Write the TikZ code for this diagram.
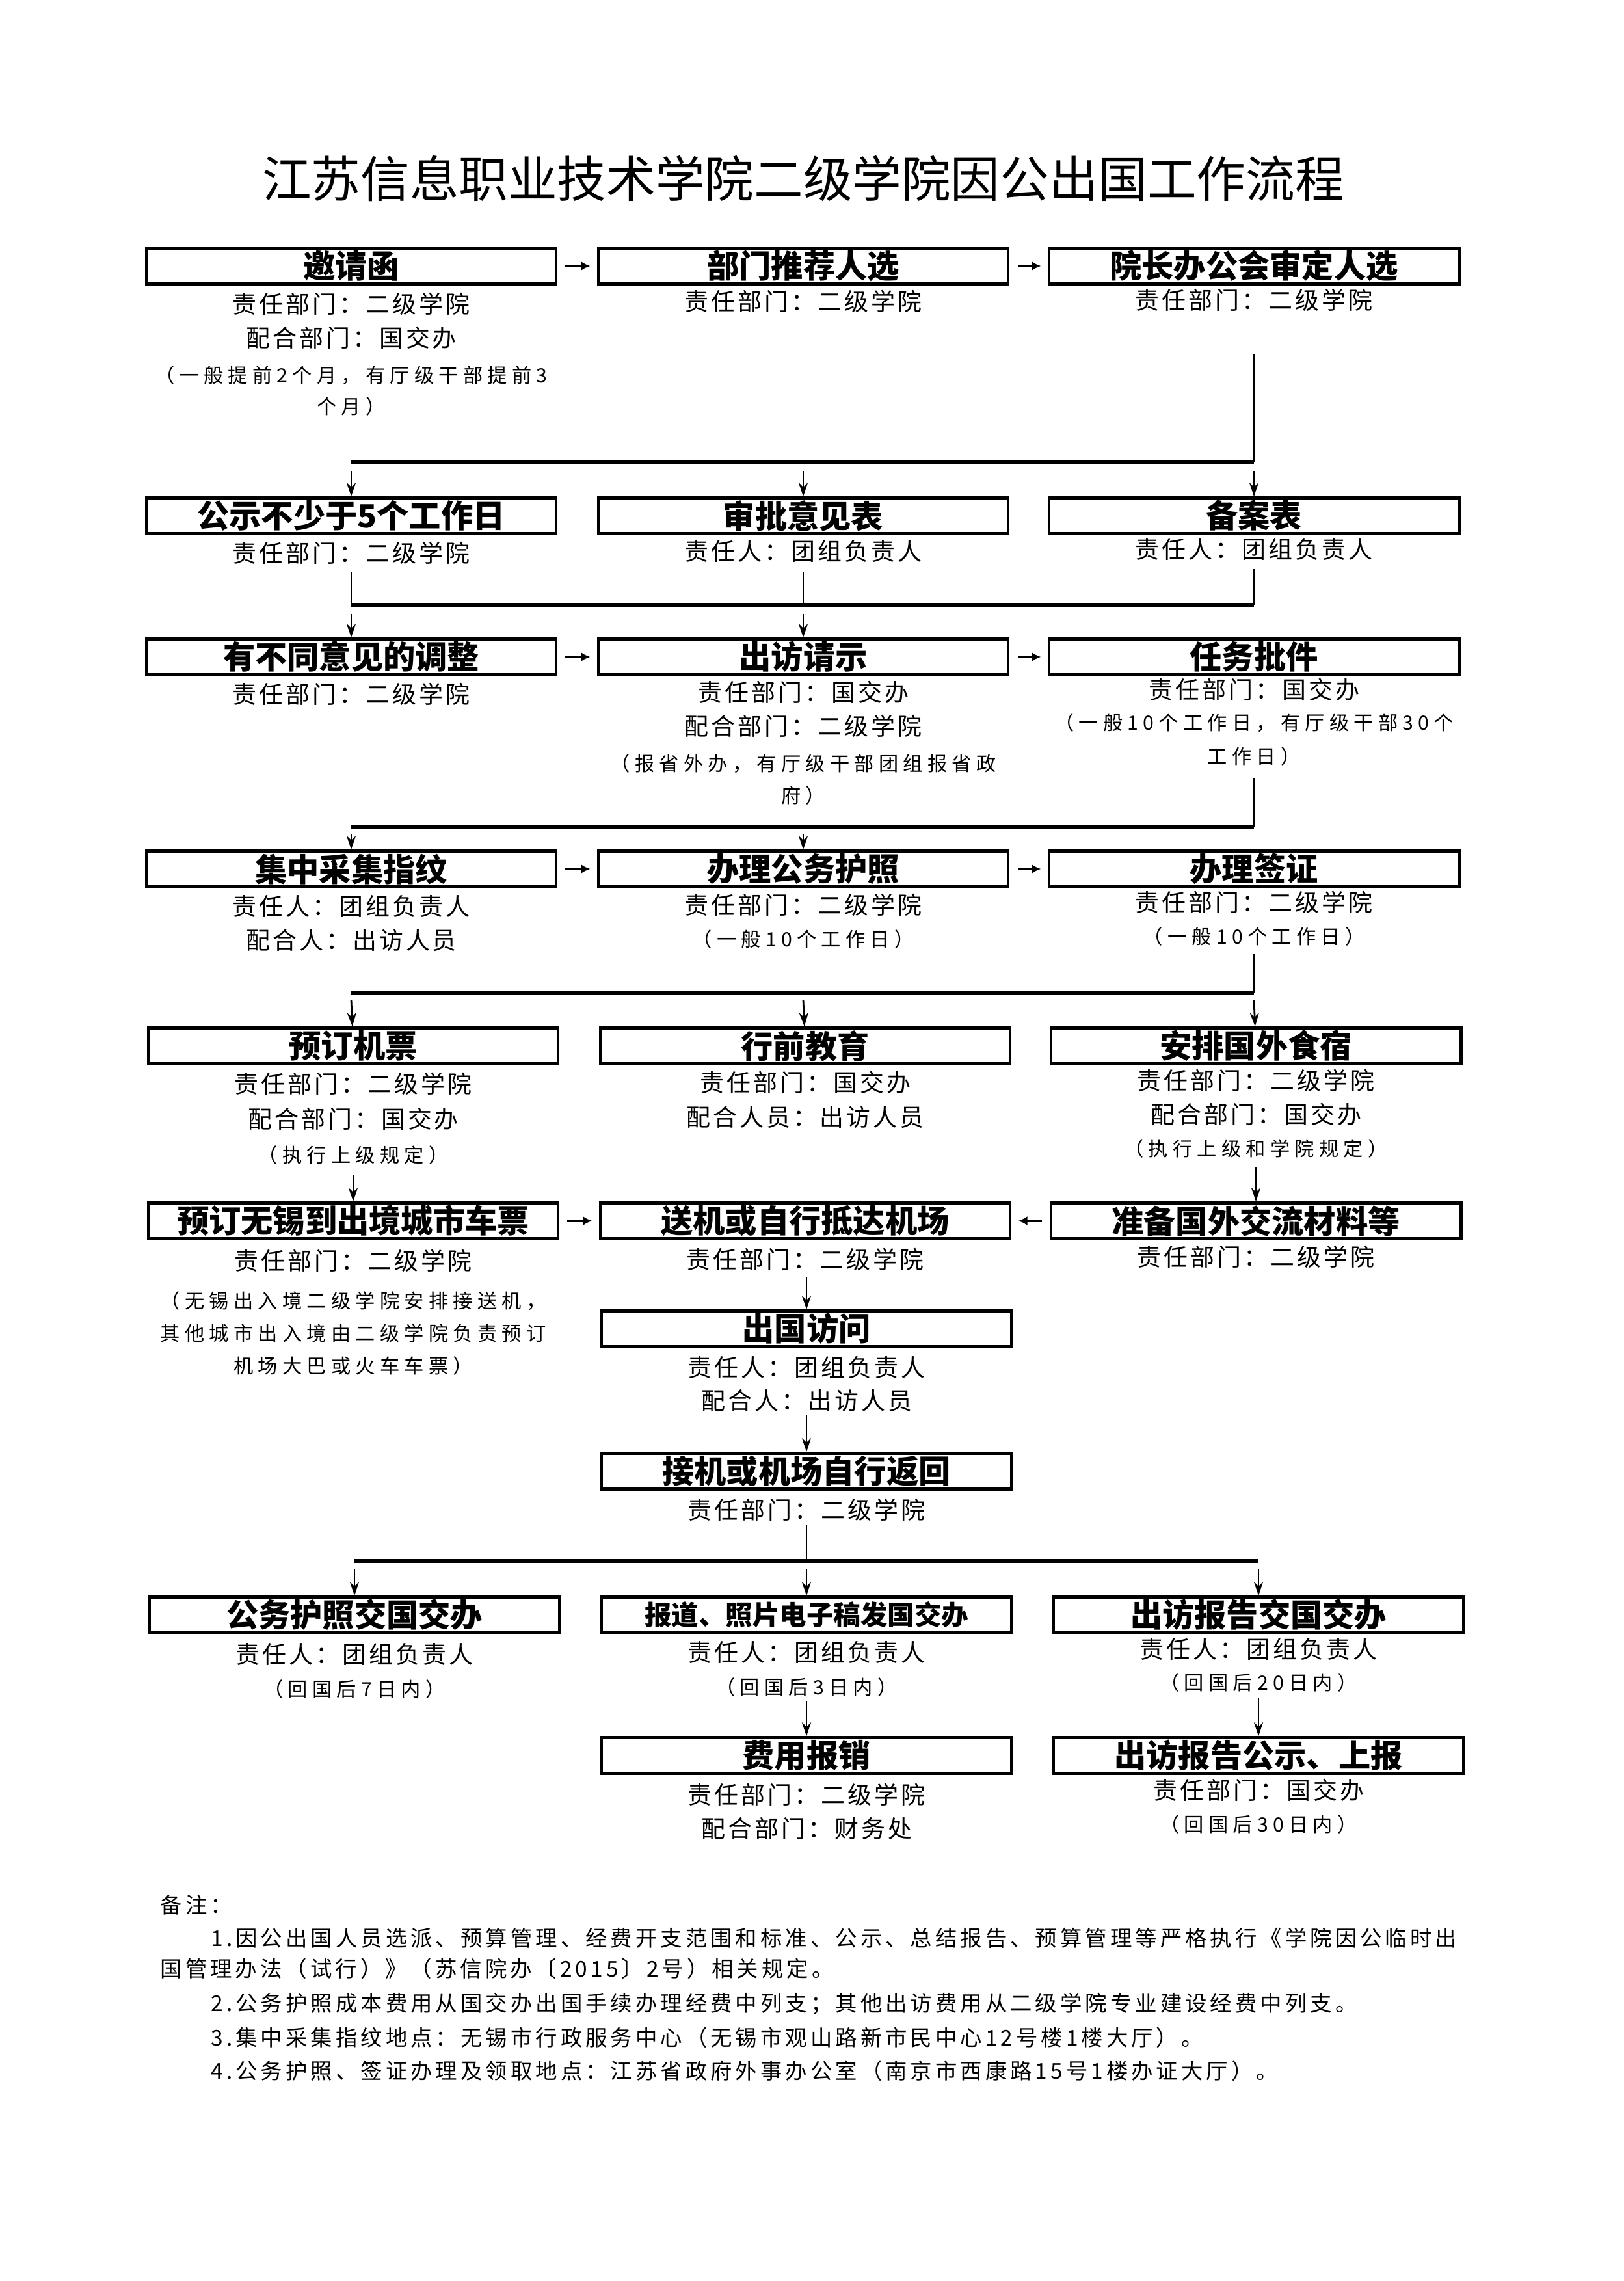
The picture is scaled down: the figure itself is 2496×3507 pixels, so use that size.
\documentclass[tikz,border=0pt]{standalone}
\usepackage{fontspec}
\setmainfont{Noto Sans CJK SC}
\newfontfamily\subfont[LetterSpace=11]{Noto Sans CJK SC}
\newfontfamily\parfont[LetterSpace=24]{Noto Sans CJK SC}
\newfontfamily\notefont[LetterSpace=15]{Noto Sans CJK SC}
\usetikzlibrary{arrows.meta}
\begin{document}
\begin{tikzpicture}[x=0.01cm,y=-0.01cm,
  flowbox/.style={draw, line width=1.3pt, minimum width=6.3cm, minimum height=0.55cm, inner sep=0pt, font=\fontsize{14}{16}\selectfont\bfseries},
  subtxt/.style={inner sep=0pt, font=\subfont\fontsize{10.5}{12}\selectfont},
  partxt/.style={inner sep=0pt, font=\parfont\fontsize{8.6}{10}\selectfont},
  notetxt/.style={inner sep=0pt, anchor=west, font=\notefont\fontsize{9.5}{11}\selectfont},
  hline/.style={line width=1.8pt},
  vline/.style={line width=0.8pt},
  darr/.style={line width=0.8pt, -{Stealth[length=6pt,width=4pt]}},
  harr/.style={line width=1.3pt, -{Latex[length=4pt,width=4pt]}, shorten <=0.12cm, shorten >=0.1cm}]
\fill[white] (0,0) rectangle (2496,3507);
\useasboundingbox (0,0) rectangle (2496,3507);

% title
\node[inner sep=0pt, font=\fontsize{21.5}{24}\selectfont] (title) at (1235,275) {江苏信息职业技术学院二级学院因公出国工作流程};

% row 1
\node[flowbox] (b11) at (540,409) {邀请函};
\node[flowbox] (b12) at (1235,409) {部门推荐人选};
\node[flowbox] (b13) at (1928,409) {院长办公会审定人选};
\node[subtxt] (s11a) at (540,467) {责任部门：二级学院};
\node[subtxt] (s11b) at (540,519) {配合部门：国交办};
\node[partxt] (p11a) at (540,577) {（一般提前2个月，有厅级干部提前3};
\node[partxt] (p11b) at (540,625) {个月）};
\node[subtxt] (s12) at (1235,463) {责任部门：二级学院};
\node[subtxt] (s13) at (1928,461) {责任部门：二级学院};
\draw[harr] (b11) -- (b12);
\draw[harr] (b12) -- (b13);
\coordinate (m1a) at (1928,545);
\coordinate (m1r) at (1928,711);
\coordinate (m1l) at (540,711);
\draw[vline] (m1a) -- (m1r);
\draw[hline] (m1l) -- (m1r);
\coordinate (d21) at (540,724);
\coordinate (d22) at (1235,724);
\coordinate (d23) at (1928,724);

% row 2
\node[flowbox] (b21) at (540,793) {公示不少于5个工作日};
\node[flowbox] (b22) at (1235,793) {审批意见表};
\node[flowbox] (b23) at (1928,793) {备案表};
\draw[darr] (d21) -- (b21);
\draw[darr] (d22) -- (b22);
\draw[darr] (d23) -- (b23);
\node[subtxt] (s21) at (540,850) {责任部门：二级学院};
\node[subtxt] (s22) at (1235,848) {责任人：团组负责人};
\node[subtxt] (s23) at (1928,845) {责任人：团组负责人};
\coordinate (m2a) at (540,880);
\coordinate (m2b) at (1235,880);
\coordinate (m2c) at (1928,875);
\coordinate (m2l) at (540,930);
\coordinate (m2m) at (1235,930);
\coordinate (m2r) at (1928,930);
\draw[vline] (m2a) -- (m2l);
\draw[vline] (m2b) -- (m2m);
\draw[vline] (m2c) -- (m2r);
\draw[hline] (m2l) -- (m2r);
\coordinate (d31) at (540,944);
\coordinate (d32) at (1235,944);

% row 3
\node[flowbox] (b31) at (540,1010) {有不同意见的调整};
\node[flowbox] (b32) at (1235,1010) {出访请示};
\node[flowbox] (b33) at (1928,1010) {任务批件};
\draw[darr] (d31) -- (b31);
\draw[darr] (d32) -- (b32);
\draw[harr] (b31) -- (b32);
\draw[harr] (b32) -- (b33);
\node[subtxt] (s31) at (540,1067) {责任部门：二级学院};
\node[subtxt] (s32a) at (1235,1064) {责任部门：国交办};
\node[subtxt] (s32b) at (1235,1116) {配合部门：二级学院};
\node[partxt] (p32a) at (1235,1174) {（报省外办，有厅级干部团组报省政};
\node[partxt] (p32b) at (1235,1223) {府）};
\node[subtxt] (s33) at (1928,1060) {责任部门：国交办};
\node[partxt] (p33a) at (1928,1111) {（一般10个工作日，有厅级干部30个};
\node[partxt] (p33b) at (1928,1163) {工作日）};
\coordinate (m3a) at (1928,1196);
\coordinate (m3r) at (1928,1272);
\coordinate (m3l) at (540,1272);
\draw[vline] (m3a) -- (m3r);
\draw[hline] (m3l) -- (m3r);
\coordinate (d41) at (540,1283);
\coordinate (d42) at (1235,1283);

% row 4
\node[flowbox] (b41) at (540,1336) {集中采集指纹};
\node[flowbox] (b42) at (1235,1336) {办理公务护照};
\node[flowbox] (b43) at (1928,1336) {办理签证};
\draw[darr] (d41) -- (b41);
\draw[darr] (d42) -- (b42);
\draw[harr] (b41) -- (b42);
\draw[harr] (b42) -- (b43);
\node[subtxt] (s41a) at (540,1393) {责任人：团组负责人};
\node[subtxt] (s41b) at (540,1445) {配合人：出访人员};
\node[subtxt] (s42) at (1235,1391) {责任部门：二级学院};
\node[partxt] (p42) at (1235,1444) {（一般10个工作日）};
\node[subtxt] (s43) at (1928,1387) {责任部门：二级学院};
\node[partxt] (p43) at (1928,1440) {（一般10个工作日）};
\coordinate (m4a) at (1928,1467);
\coordinate (m4r) at (1928,1527);
\coordinate (m4l) at (540,1527);
\draw[vline] (m4a) -- (m4r);
\draw[hline] (m4l) -- (m4r);
\coordinate (d51) at (540,1538);
\coordinate (d52) at (1235,1538);
\coordinate (d53) at (1928,1538);

% row 5
\node[flowbox] (b51) at (543,1608) {预订机票};
\node[flowbox] (b52) at (1238,1608) {行前教育};
\node[flowbox] (b53) at (1931,1608) {安排国外食宿};
\draw[darr] (d51) -- (b51);
\draw[darr] (d52) -- (b52);
\draw[darr] (d53) -- (b53);
\node[subtxt] (s51a) at (543,1666) {责任部门：二级学院};
\node[subtxt] (s51b) at (543,1720) {配合部门：国交办};
\node[partxt] (p51) at (543,1776) {（执行上级规定）};
\node[subtxt] (s52a) at (1238,1664) {责任部门：国交办};
\node[subtxt] (s52b) at (1238,1717) {配合人员：出访人员};
\node[subtxt] (s53a) at (1931,1661) {责任部门：二级学院};
\node[subtxt] (s53b) at (1931,1713) {配合部门：国交办};
\node[partxt] (p53) at (1931,1766) {（执行上级和学院规定）};
\coordinate (d61) at (543,1806);
\coordinate (d63) at (1931,1795);

% row 6
\node[flowbox] (b61) at (543,1877) {预订无锡到出境城市车票};
\node[flowbox] (b62) at (1238,1877) {送机或自行抵达机场};
\node[flowbox] (b63) at (1931,1877) {准备国外交流材料等};
\draw[darr] (d61) -- (b61);
\draw[darr] (d63) -- (b63);
\draw[harr] (b61) -- (b62);
\draw[harr] (b63) -- (b62);
\node[subtxt] (s61) at (543,1938) {责任部门：二级学院};
\node[partxt] (p61a) at (543,2000) {（无锡出入境二级学院安排接送机，};
\node[partxt] (p61b) at (543,2050) {其他城市出入境由二级学院负责预订};
\node[partxt] (p61c) at (543,2100) {机场大巴或火车车票）};
\node[subtxt] (s62) at (1238,1936) {责任部门：二级学院};
\node[subtxt] (s63) at (1931,1932) {责任部门：二级学院};
\coordinate (d7) at (1240,1963);

% row 7
\node[flowbox] (b7) at (1240,2043) {出国访问};
\draw[darr] (d7) -- (b7);
\node[subtxt] (s7a) at (1240,2102) {责任人：团组负责人};
\node[subtxt] (s7b) at (1240,2153) {配合人：出访人员};
\coordinate (d8) at (1240,2176);

% row 8
\node[flowbox] (b8) at (1240,2262) {接机或机场自行返回};
\draw[darr] (d8) -- (b8);
\node[subtxt] (s8) at (1240,2321) {责任部门：二级学院};
\coordinate (m5a) at (1240,2345);
\coordinate (m5m) at (1240,2400);
\coordinate (m5l) at (545,2400);
\coordinate (m5r) at (1935,2400);
\draw[vline] (m5a) -- (m5m);
\draw[hline] (m5l) -- (m5r);
\coordinate (d91) at (545,2412);
\coordinate (d92) at (1240,2412);
\coordinate (d93) at (1935,2412);

% row 9
\node[flowbox] (b91) at (545,2483) {公务护照交国交办};
\node[flowbox, font=\fontsize{11.8}{14}\selectfont\bfseries] (b92) at (1240,2483) {报道、照片电子稿发国交办};
\node[flowbox] (b93) at (1935,2483) {出访报告交国交办};
\draw[darr] (d91) -- (b91);
\draw[darr] (d92) -- (b92);
\draw[darr] (d93) -- (b93);
\node[subtxt] (s91) at (545,2543) {责任人：团组负责人};
\node[partxt] (p91) at (545,2597) {（回国后7日内）};
\node[subtxt] (s92) at (1240,2540) {责任人：团组负责人};
\node[partxt] (p92) at (1240,2594) {（回国后3日内）};
\node[subtxt] (s93) at (1935,2535) {责任人：团组负责人};
\node[partxt] (p93) at (1935,2587) {（回国后20日内）};
\coordinate (d102) at (1240,2616);
\coordinate (d103) at (1935,2610);

% row 10
\node[flowbox] (b102) at (1240,2699) {费用报销};
\node[flowbox] (b103) at (1935,2699) {出访报告公示、上报};
\draw[darr] (d102) -- (b102);
\draw[darr] (d103) -- (b103);
\node[subtxt] (s102a) at (1240,2759) {责任部门：二级学院};
\node[subtxt] (s102b) at (1240,2811) {配合部门：财务处};
\node[subtxt] (s103) at (1935,2752) {责任部门：国交办};
\node[partxt] (p103) at (1935,2805) {（回国后30日内）};

% notes
\node[notetxt] (n0) at (246,2929) {备注：};
\node[notetxt] (n1) at (324,2980) {1.因公出国人员选派、预算管理、经费开支范围和标准、公示、总结报告、预算管理等严格执行《学院因公临时出};
\node[notetxt] (n1b) at (246,3027) {国管理办法（试行）》（苏信院办〔2015〕2号）相关规定。};
\node[notetxt] (n2) at (324,3081) {2.公务护照成本费用从国交办出国手续办理经费中列支；其他出访费用从二级学院专业建设经费中列支。};
\node[notetxt] (n3) at (324,3133) {3.集中采集指纹地点：无锡市行政服务中心（无锡市观山路新市民中心12号楼1楼大厅）。};
\node[notetxt] (n4) at (324,3184) {4.公务护照、签证办理及领取地点：江苏省政府外事办公室（南京市西康路15号1楼办证大厅）。};
\end{tikzpicture}
\end{document}
